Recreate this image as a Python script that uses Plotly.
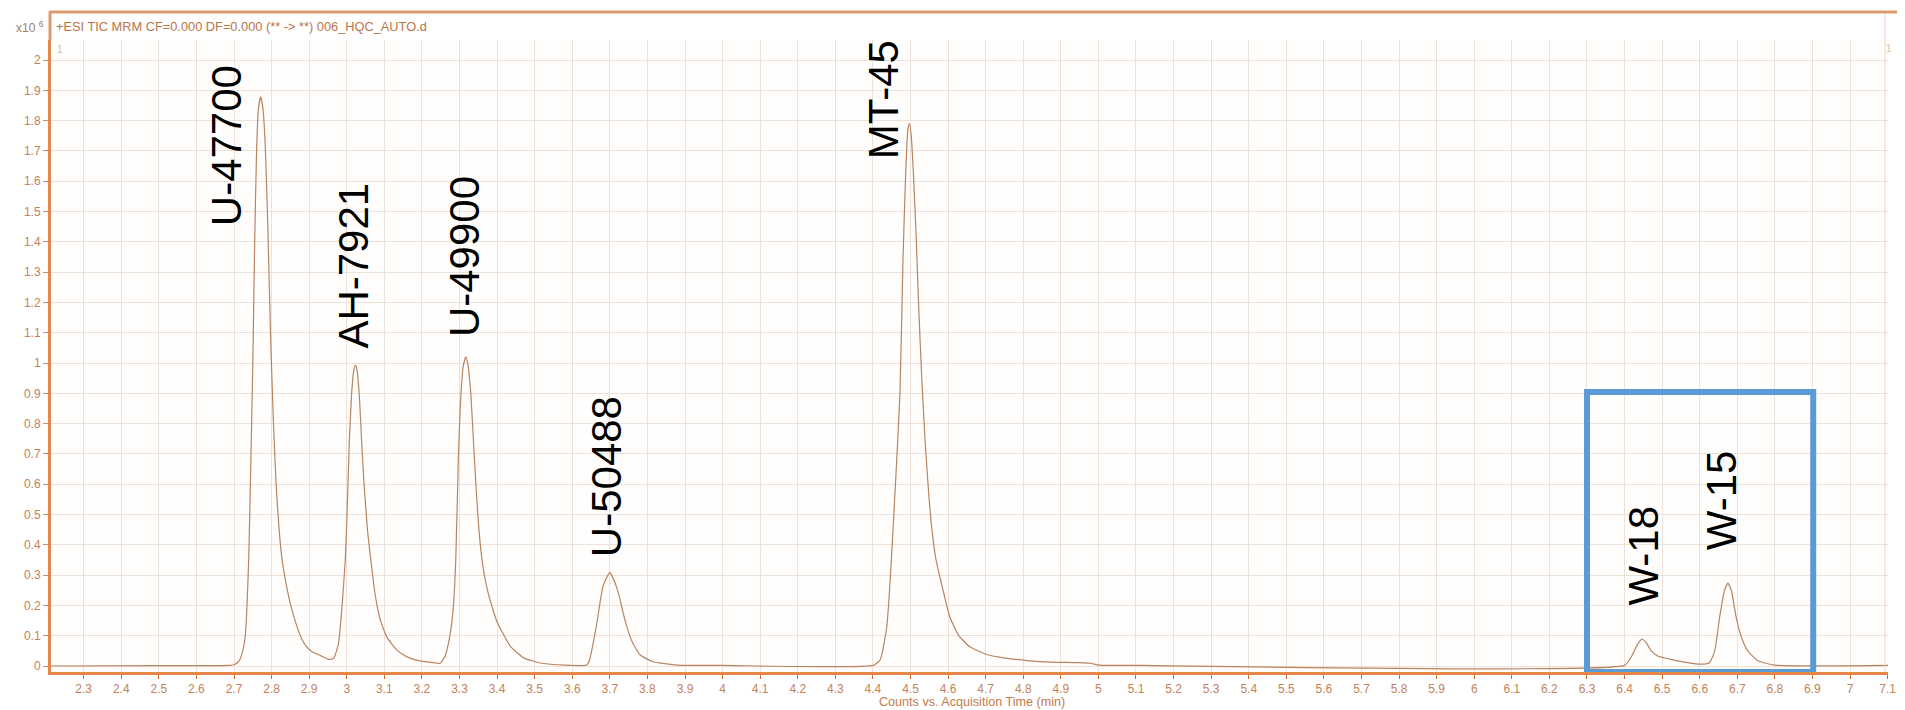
import plotly.graph_objects as go

# ---------------- data ----------------
time_min = [
    2.213, 2.50, 2.690,
    # U-47700
    2.700, 2.712, 2.721, 2.730, 2.739, 2.745, 2.750, 2.755, 2.760, 2.765, 2.771,
    2.777, 2.783, 2.790, 2.797, 2.805, 2.812, 2.820, 2.828, 2.838, 2.850, 2.865,
    2.880, 2.894, 2.907, 2.929, 2.951, 2.965, 2.978, 2.987, 2.996,
    # AH-7921
    3.002, 3.007, 3.013, 3.018, 3.023, 3.028, 3.034, 3.040, 3.046, 3.055, 3.064,
    3.075, 3.088, 3.106, 3.133, 3.159, 3.195, 3.230, 3.248, 3.261, 3.274, 3.283,
    # U-49900
    3.290, 3.297, 3.303, 3.310, 3.317, 3.323, 3.330, 3.338, 3.345, 3.351, 3.358,
    3.366, 3.376, 3.388, 3.400, 3.436, 3.472, 3.519, 3.579, 3.638,
    # U-50488
    3.646, 3.664, 3.682, 3.700, 3.720, 3.740, 3.757, 3.780, 3.815, 3.880, 4.000,
    4.401,
    # MT-45
    4.419, 4.437, 4.449, 4.460, 4.472, 4.480, 4.487, 4.493, 4.497, 4.502, 4.508,
    4.515, 4.522, 4.530, 4.539, 4.549, 4.558, 4.568, 4.586, 4.604, 4.627, 4.657,
    4.705, 4.752, 4.812, 4.871, 4.943, 4.979, 5.002, 5.110, 6.400,
    # W-18 / W-15
    6.417, 6.435, 6.446, 6.457, 6.471, 6.488, 6.524, 6.568, 6.604, 6.626, 6.640,
    6.653, 6.666, 6.675, 6.684, 6.697, 6.711, 6.728, 6.755, 6.800, 7.101,
]
counts_1e6 = [
    0.000, 0.001, 0.002,
    0.004, 0.014, 0.040, 0.100, 0.350, 0.690, 1.000, 1.400, 1.700, 1.840, 1.878,
    1.840, 1.720, 1.450, 1.100, 0.800, 0.600, 0.450, 0.350, 0.275, 0.205, 0.140,
    0.090, 0.062, 0.048, 0.035, 0.022, 0.025, 0.075, 0.190, 0.350,
    0.550, 0.750, 0.900, 0.970, 0.993, 0.970, 0.880, 0.730, 0.600, 0.450, 0.350,
    0.240, 0.157, 0.097, 0.053, 0.031, 0.017, 0.011, 0.009, 0.031, 0.097, 0.186,
    0.350, 0.690, 0.880, 0.990, 1.020, 0.990, 0.900, 0.720, 0.570, 0.460, 0.370,
    0.300, 0.242, 0.190, 0.145, 0.064, 0.026, 0.009, 0.003, 0.003,
    0.020, 0.131, 0.264, 0.308, 0.253, 0.153, 0.087, 0.037, 0.014, 0.003, 0.002,
    0.002,
    0.020, 0.130, 0.350, 0.600, 0.900, 1.340, 1.620, 1.770, 1.790, 1.750, 1.620,
    1.420, 1.180, 0.950, 0.740, 0.560, 0.440, 0.350, 0.253, 0.164, 0.103, 0.064,
    0.037, 0.026, 0.018, 0.013, 0.011, 0.009, 0.003, 0.002, 0.002,
    0.028, 0.072, 0.089, 0.078, 0.050, 0.033, 0.022, 0.011, 0.006, 0.011, 0.050,
    0.161, 0.250, 0.274, 0.250, 0.161, 0.094, 0.050, 0.017, 0.003, 0.002,
]

peak_names = ["U-47700", "AH-7921", "U-49900", "U-50488", "MT-45", "W-18", "W-15"]

header_text = "+ESI TIC MRM CF=0.000 DF=0.000 (** -> **) 006_HQC_AUTO.d"
x_title = "Counts vs. Acquisition Time (min)"

# ---------------- layout / styling ----------------
W, H = 1905, 710
ML, MR, MT, MB = 51, 9, 40, 38
PL, PR, PT, PB = ML, W - MR, MT, H - MB
X_RANGE = [2.213, 7.101]
Y_RANGE = [-0.0198, 2.066]

# label anchor positions (time, height in 1e6 counts) – layout only
label_pos = [(2.679, 1.716), (3.018, 1.320), (3.315, 1.350), (3.693, 0.624),
             (4.430, 1.868), (6.448, 0.363), (6.660, 0.548)]

ORANGE = "#e3874a"
TICKTXT = "#c4825a"
GRID = "#eee1da"
TRACE = "#b98460"


def px_x(px):
    return (px - PL) / (PR - PL)


def px_y(py):
    return (PB - py) / (PB - PT)


fig = go.Figure()
fig.add_trace(go.Scatter(
    x=time_min, y=counts_1e6, mode="lines",
    line=dict(color=TRACE, width=1.2, shape="spline", smoothing=0.5),
    hoverinfo="x+y", showlegend=False,
))

annotations = []
for name, (tx, ty) in zip(peak_names, label_pos):
    annotations.append(dict(
        x=tx, y=ty, xref="x", yref="y", text=name, textangle=-90,
        showarrow=False, xanchor="center", yanchor="middle",
        font=dict(family="Liberation Sans, Arial, sans-serif", size=42, color="#000000"),
    ))

annotations += [
    dict(x=px_x(54), y=px_y(27), xref="paper", yref="paper", text=header_text,
         showarrow=False, xanchor="left", yanchor="middle",
         font=dict(family="Liberation Sans, Arial", size=12.8, color="#b87548")),
    dict(x=px_x(46), y=px_y(27), xref="paper", yref="paper", text="x10 <sup>6</sup>",
         showarrow=False, xanchor="right", yanchor="middle",
         font=dict(family="Liberation Sans, Arial", size=12, color="#a08070")),
    dict(x=px_x(55), y=px_y(50), xref="paper", yref="paper", text="1",
         showarrow=False, xanchor="left", yanchor="middle",
         font=dict(family="Liberation Sans, Arial", size=10, color="#d9bcae")),
    dict(x=px_x(1902), y=px_y(49), xref="paper", yref="paper", text="1",
         showarrow=False, xanchor="right", yanchor="middle",
         font=dict(family="Liberation Sans, Arial", size=10, color="#d9bcae")),
    dict(x=px_x(976), y=px_y(702), xref="paper", yref="paper", text=x_title,
         showarrow=False, xanchor="center", yanchor="middle",
         font=dict(family="Liberation Sans, Arial", size=12.6, color="#c47a4a")),
]

shapes = [
    # top frame line
    dict(type="line", xref="paper", yref="paper", x0=px_x(PL - 1), x1=px_x(W),
         y0=px_y(12), y1=px_y(12), line=dict(color="#dc9a70", width=3), layer="above"),
    # left frame line up to the top border
    dict(type="line", xref="paper", yref="paper", x0=px_x(PL - 1), x1=px_x(PL - 1),
         y0=px_y(11), y1=1, line=dict(color="#dc9a70", width=3), layer="above"),
    # faint right border
    dict(type="line", xref="paper", yref="paper", x0=px_x(1893), x1=px_x(1893),
         y0=0, y1=px_y(14), line=dict(color="#f3d2c0", width=1), layer="above"),
    # highlight box
    dict(type="rect", xref="x", yref="y", x0=6.30, x1=6.902, y0=-0.0198, y1=0.904,
         line=dict(color="#5b9bd5", width=6), fillcolor="rgba(0,0,0,0)", layer="above"),
]

fig.update_layout(
    width=W, height=H,
    margin=dict(l=ML, r=MR, t=MT, b=MB, pad=0),
    paper_bgcolor="#ffffff", plot_bgcolor="#fffefc",
    annotations=annotations, shapes=shapes,
    font=dict(family="Liberation Sans, Arial", size=12, color=TICKTXT),
)
fig.update_xaxes(
    range=X_RANGE, tick0=0, dtick=0.1, showgrid=True, gridcolor=GRID, gridwidth=1,
    zeroline=False, showline=True, linecolor=ORANGE, linewidth=3,
    ticks="outside", ticklen=4, tickcolor="#d8622a", tickwidth=1,
    tickfont=dict(family="Liberation Sans, Arial", size=12, color=TICKTXT),
    fixedrange=True,
)
fig.update_yaxes(
    range=Y_RANGE, tick0=0, dtick=0.1, showgrid=True, gridcolor=GRID, gridwidth=1,
    zeroline=False, showline=True, linecolor=ORANGE, linewidth=3,
    ticks="outside", ticklen=5, tickcolor="#c89070", tickwidth=1,
    tickfont=dict(family="Liberation Sans, Arial", size=12, color=TICKTXT),
    fixedrange=True,
)

fig.write_html("out.html", include_plotlyjs=True, config={"displayModeBar": False})
